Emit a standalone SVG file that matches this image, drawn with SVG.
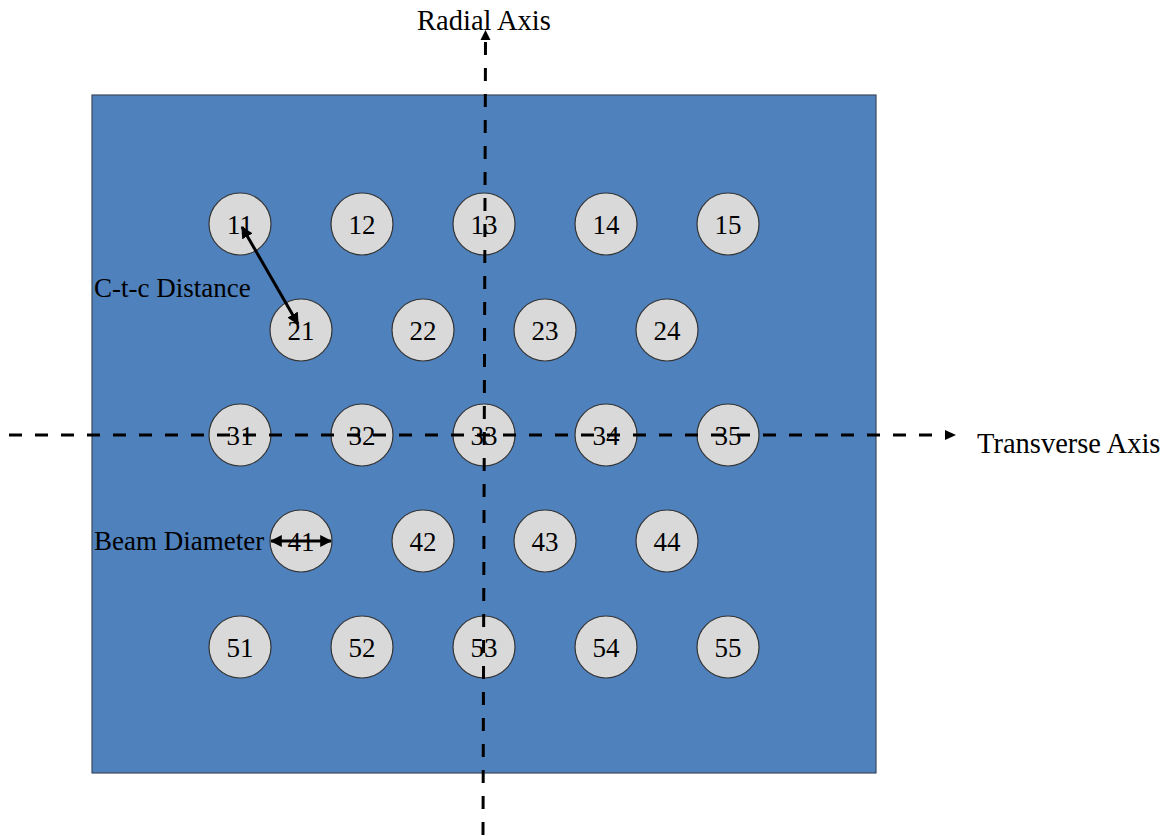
<svg xmlns="http://www.w3.org/2000/svg" width="1171" height="835" viewBox="0 0 1171 835">
<style>
.n circle{fill:#d9d9d9;stroke:#333;stroke-width:1.2}
.n text,.lbl{font-family:"Liberation Serif",serif;font-size:27px;fill:#000}
.n text{text-anchor:middle}
.big{font-size:28.5px}
.ax{stroke:#000;stroke-width:3;stroke-dasharray:13 13;fill:none}
.ar{stroke:#000;stroke-width:3;fill:none}
</style>
<defs>
<marker id="ah" viewBox="0 0 10 10" refX="9" refY="5" markerWidth="4" markerHeight="4" orient="auto-start-reverse" markerUnits="strokeWidth">
<path d="M0,0 L10,5 L0,10 z" fill="#000"/>
</marker>
</defs>
<rect id="panel" x="92" y="95" width="784" height="678" fill="#4f81bd" stroke="#3c4a5c" stroke-width="1.2"/>
<g id="n11" class="n"><circle cx="240" cy="224" r="31"/><text x="240" y="234">11</text></g>
<g id="n12" class="n"><circle cx="362" cy="224" r="31"/><text x="362" y="234">12</text></g>
<g id="n13" class="n"><circle cx="484" cy="224" r="31"/><text x="484" y="234">13</text></g>
<g id="n14" class="n"><circle cx="606" cy="224" r="31"/><text x="606" y="234">14</text></g>
<g id="n15" class="n"><circle cx="728" cy="224" r="31"/><text x="728" y="234">15</text></g>
<g id="n21" class="n"><circle cx="301" cy="330" r="31"/><text x="301" y="340">21</text></g>
<g id="n22" class="n"><circle cx="423" cy="330" r="31"/><text x="423" y="340">22</text></g>
<g id="n23" class="n"><circle cx="545" cy="330" r="31"/><text x="545" y="340">23</text></g>
<g id="n24" class="n"><circle cx="667" cy="330" r="31"/><text x="667" y="340">24</text></g>
<g id="n31" class="n"><circle cx="240" cy="435" r="31"/><text x="240" y="445">31</text></g>
<g id="n32" class="n"><circle cx="362" cy="435" r="31"/><text x="362" y="445">32</text></g>
<g id="n33" class="n"><circle cx="484" cy="435" r="31"/><text x="484" y="445">33</text></g>
<g id="n34" class="n"><circle cx="606" cy="435" r="31"/><text x="606" y="445">34</text></g>
<g id="n35" class="n"><circle cx="728" cy="435" r="31"/><text x="728" y="445">35</text></g>
<g id="n41" class="n"><circle cx="301" cy="541" r="31"/><text x="301" y="551">41</text></g>
<g id="n42" class="n"><circle cx="423" cy="541" r="31"/><text x="423" y="551">42</text></g>
<g id="n43" class="n"><circle cx="545" cy="541" r="31"/><text x="545" y="551">43</text></g>
<g id="n44" class="n"><circle cx="667" cy="541" r="31"/><text x="667" y="551">44</text></g>
<g id="n51" class="n"><circle cx="240" cy="647" r="31"/><text x="240" y="657">51</text></g>
<g id="n52" class="n"><circle cx="362" cy="647" r="31"/><text x="362" y="657">52</text></g>
<g id="n53" class="n"><circle cx="484" cy="647" r="31"/><text x="484" y="657">53</text></g>
<g id="n54" class="n"><circle cx="606" cy="647" r="31"/><text x="606" y="657">54</text></g>
<g id="n55" class="n"><circle cx="728" cy="647" r="31"/><text x="728" y="657">55</text></g>
<g id="connectors">
<line class="ax" x1="483" y1="835" x2="485.5" y2="40"/>
<path d="M480.5,40 L485.5,30 L490.5,40 z" fill="#000"/>
<line class="ax" x1="9" y1="435" x2="945" y2="435"/>
<path d="M945,430 L956,435 L945,440 z" fill="#000"/>
<line class="ar" x1="242" y1="227" x2="298" y2="324" marker-start="url(#ah)" marker-end="url(#ah)"/>
<line class="ar" x1="271" y1="541" x2="331" y2="541" marker-start="url(#ah)" marker-end="url(#ah)"/>
</g>
<text class="lbl big" x="484" y="30" text-anchor="middle">Radial Axis</text>
<text class="lbl big" x="977" y="453">Transverse Axis</text>
<text class="lbl" x="94" y="297">C-t-c Distance</text>
<text class="lbl" x="94" y="550">Beam Diameter</text>
</svg>
